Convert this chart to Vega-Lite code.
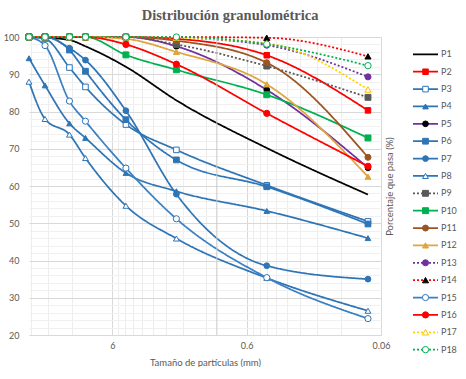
{
  "$schema": "https://vega.github.io/schema/vega-lite/v6.json",
  "background": "white",
  "padding": {"left": 3, "top": 8, "right": 0, "bottom": 0},
  "title": {"text": "Distribución granulométrica", "font": "Liberation Serif", "fontSize": 14.5, "fontWeight": "bold", "color": "#595959", "anchor": "middle", "offset": 8},
  "config": {
    "view": {"stroke": null},
    "font": "Lato",
    "axis": {"labelFont": "Lato", "titleFont": "Lato", "labelColor": "#595959", "titleColor": "#595959", "labelFontSize": 9, "titleFontSize": 9.5, "titleFontWeight": "normal"}
  },
  "datasets": {
    "main": [
      {"series":"P1","size":25,"pct":100},{"series":"P1","size":19,"pct":99.8},{"series":"P1","size":12.5,"pct":99.2},{"series":"P1","size":9.5,"pct":97.5},{"series":"P1","size":4.75,"pct":92},{"series":"P1","size":2,"pct":83},{"series":"P1","size":0.425,"pct":70.2},{"series":"P1","size":0.075,"pct":57.7},
      {"series":"P2","size":25,"pct":100},{"series":"P2","size":19,"pct":100},{"series":"P2","size":12.5,"pct":100},{"series":"P2","size":9.5,"pct":100},{"series":"P2","size":4.75,"pct":100},{"series":"P2","size":2,"pct":99.5},{"series":"P2","size":0.425,"pct":95.1},{"series":"P2","size":0.075,"pct":80.3},
      {"series":"P3","size":25,"pct":100},{"series":"P3","size":19,"pct":99.5},{"series":"P3","size":12.5,"pct":91.8},{"series":"P3","size":9.5,"pct":86.6},{"series":"P3","size":4.75,"pct":76.5},{"series":"P3","size":2,"pct":69.7},{"series":"P3","size":0.425,"pct":60.2},{"series":"P3","size":0.075,"pct":50.5},
      {"series":"P4","size":25,"pct":94.3},{"series":"P4","size":19,"pct":87},{"series":"P4","size":12.5,"pct":76.8},{"series":"P4","size":9.5,"pct":72.9},{"series":"P4","size":4.75,"pct":63.5},{"series":"P4","size":2,"pct":58.6},{"series":"P4","size":0.425,"pct":53.3},{"series":"P4","size":0.075,"pct":46},
      {"series":"P5","size":25,"pct":100},{"series":"P5","size":19,"pct":100},{"series":"P5","size":12.5,"pct":100},{"series":"P5","size":9.5,"pct":100},{"series":"P5","size":4.75,"pct":100},{"series":"P5","size":2,"pct":97.5},{"series":"P5","size":0.425,"pct":85.8},{"series":"P5","size":0.075,"pct":64.9},
      {"series":"P6","size":25,"pct":100},{"series":"P6","size":19,"pct":100},{"series":"P6","size":12.5,"pct":96.5},{"series":"P6","size":9.5,"pct":90.8},{"series":"P6","size":4.75,"pct":77.8},{"series":"P6","size":2,"pct":67},{"series":"P6","size":0.425,"pct":59.8},{"series":"P6","size":0.075,"pct":49.8},
      {"series":"P7","size":25,"pct":100},{"series":"P7","size":19,"pct":100},{"series":"P7","size":12.5,"pct":97},{"series":"P7","size":9.5,"pct":93.8},{"series":"P7","size":4.75,"pct":80.2},{"series":"P7","size":2,"pct":57.8},{"series":"P7","size":0.425,"pct":38.6},{"series":"P7","size":0.075,"pct":35},
      {"series":"P8","size":25,"pct":88},{"series":"P8","size":19,"pct":78},{"series":"P8","size":12.5,"pct":73.8},{"series":"P8","size":9.5,"pct":67.5},{"series":"P8","size":4.75,"pct":54.7},{"series":"P8","size":2,"pct":45.9},{"series":"P8","size":0.425,"pct":35.3},{"series":"P8","size":0.075,"pct":26.5},
      {"series":"P9","size":25,"pct":100},{"series":"P9","size":19,"pct":100},{"series":"P9","size":12.5,"pct":100},{"series":"P9","size":9.5,"pct":100},{"series":"P9","size":4.75,"pct":100},{"series":"P9","size":2,"pct":98},{"series":"P9","size":0.425,"pct":92.2},{"series":"P9","size":0.075,"pct":83.8},
      {"series":"P10","size":25,"pct":100},{"series":"P10","size":19,"pct":100},{"series":"P10","size":12.5,"pct":100},{"series":"P10","size":9.5,"pct":100},{"series":"P10","size":4.75,"pct":95.2},{"series":"P10","size":2,"pct":91.2},{"series":"P10","size":0.425,"pct":84.5},{"series":"P10","size":0.075,"pct":72.9},
      {"series":"P11","size":25,"pct":100},{"series":"P11","size":19,"pct":100},{"series":"P11","size":12.5,"pct":100},{"series":"P11","size":9.5,"pct":100},{"series":"P11","size":4.75,"pct":100},{"series":"P11","size":2,"pct":99},{"series":"P11","size":0.425,"pct":93.1},{"series":"P11","size":0.075,"pct":67.7},
      {"series":"P12","size":25,"pct":100},{"series":"P12","size":19,"pct":100},{"series":"P12","size":12.5,"pct":100},{"series":"P12","size":9.5,"pct":100},{"series":"P12","size":4.75,"pct":99.5},{"series":"P12","size":2,"pct":96},{"series":"P12","size":0.425,"pct":87.3},{"series":"P12","size":0.075,"pct":62.5},
      {"series":"P13","size":25,"pct":100},{"series":"P13","size":19,"pct":100},{"series":"P13","size":12.5,"pct":100},{"series":"P13","size":9.5,"pct":100},{"series":"P13","size":4.75,"pct":100},{"series":"P13","size":2,"pct":99.8},{"series":"P13","size":0.425,"pct":97.8},{"series":"P13","size":0.075,"pct":89.3},
      {"series":"P14","size":25,"pct":100},{"series":"P14","size":19,"pct":100},{"series":"P14","size":12.5,"pct":100},{"series":"P14","size":9.5,"pct":100},{"series":"P14","size":4.75,"pct":100},{"series":"P14","size":2,"pct":100},{"series":"P14","size":0.425,"pct":99.8},{"series":"P14","size":0.075,"pct":94.8},
      {"series":"P15","size":25,"pct":100},{"series":"P15","size":19,"pct":97.7},{"series":"P15","size":12.5,"pct":82.8},{"series":"P15","size":9.5,"pct":77.4},{"series":"P15","size":4.75,"pct":64.8},{"series":"P15","size":2,"pct":51.2},{"series":"P15","size":0.425,"pct":35.4},{"series":"P15","size":0.075,"pct":24.4},
      {"series":"P16","size":25,"pct":100},{"series":"P16","size":19,"pct":100},{"series":"P16","size":12.5,"pct":100},{"series":"P16","size":9.5,"pct":100},{"series":"P16","size":4.75,"pct":98},{"series":"P16","size":2,"pct":92.7},{"series":"P16","size":0.425,"pct":79.5},{"series":"P16","size":0.075,"pct":65.3},
      {"series":"P17","size":25,"pct":100},{"series":"P17","size":19,"pct":100},{"series":"P17","size":12.5,"pct":100},{"series":"P17","size":9.5,"pct":100},{"series":"P17","size":4.75,"pct":100},{"series":"P17","size":2,"pct":99.8},{"series":"P17","size":0.425,"pct":98.3},{"series":"P17","size":0.075,"pct":85.9},
      {"series":"P18","size":25,"pct":100},{"series":"P18","size":19,"pct":100},{"series":"P18","size":12.5,"pct":100},{"series":"P18","size":9.5,"pct":100},{"series":"P18","size":4.75,"pct":100},{"series":"P18","size":2,"pct":100},{"series":"P18","size":0.425,"pct":98.1},{"series":"P18","size":0.075,"pct":92.3}
    ]
  },
  "spacing": 18,
  "resolve": {"scale": {"x": "independent", "y": "independent"}},
  "hconcat": [
    {
      "width": 352,
      "height": 298,
      "data": {"name": "main"},
      "resolve": {"axis": {"y": "independent"}},
      "layer": [
        {
          "mark": {"type": "line", "interpolate": "monotone", "strokeWidth": 1.75},
          "encoding": {
            "x": {"field": "size", "type": "quantitative",
              "scale": {"type": "log", "domain": [0.06, 25], "reverse": true, "nice": false},
              "axis": {"values": [0.06,0.12,0.18,0.24,0.3,0.36,0.42,0.48,0.54,0.6,1.2,1.8,2.4,3,3.6,4.2,4.8,5.4,6,12,18,24],
                "format": "~g",
                "labelExpr": "indexof([0.06,0.6,6], datum.value) >= 0 ? datum.label : ''",
                "labelOverlap": false, "labelFlush": false, "labelBound": false,
                "title": "Tamaño de partículas (mm)",
                "grid": true,
                "gridColor": {"condition": {"test": "indexof([0.06,0.6,6], datum.value) >= 0", "value": "#d9d9d9"}, "value": "#ededed"},
                "ticks": false, "domain": true, "domainColor": "#d9d9d9",
                "labelPadding": 6, "titlePadding": 7}},
            "y": {"field": "pct", "type": "quantitative",
              "scale": {"domain": [20, 100], "nice": false, "zero": false},
              "axis": {"orient": "left",
                "values": [20,22,24,26,28,30,32,34,36,38,40,42,44,46,48,50,52,54,56,58,60,62,64,66,68,70,72,74,76,78,80,82,84,86,88,90,92,94,96,98,100],
                "labelExpr": "datum.value % 10 === 0 ? datum.label : ''",
                "labelOverlap": false, "labelFlush": false,
                "title": null, "ticks": false, "domain": false,
                "grid": true,
                "gridColor": {"condition": {"test": "datum.value % 10 === 0", "value": "#d9d9d9"}, "value": "#f0f0f0"},
                "labelPadding": 10}},
            "color": {"field": "series", "type": "nominal", "legend": null,
              "scale": {"domain": ["P1","P2","P3","P4","P5","P6","P7","P8","P9","P10","P11","P12","P13","P14","P15","P16","P17","P18"],
                "range": ["#000000","#ff0000","#2e75b6","#2e75b6","#7030a0","#2e75b6","#2e75b6","#2e75b6","#595959","#00b050","#9c5522","#e0a53c","#7030a0","#ff0000","#3a80c4","#ff0000","#ffd200","#00b050"]}},
            "strokeDash": {"field": "series", "type": "nominal", "legend": null,
              "scale": {"domain": ["P1","P2","P3","P4","P5","P6","P7","P8","P9","P10","P11","P12","P13","P14","P15","P16","P17","P18"],
                "range": [[1,0],[1,0],[1,0],[1,0],[1,0],[1,0],[1,0],[1,0],[2,2],[1,0],[1,0],[1,0],[2,2],[2,2],[1,0],[1,0],[2,2],[2,2]]}}
          }
        },
        {
          "data": {"values": [{"axisline": "v"}]},
          "mark": {"type": "rule", "color": "#c8c8c8", "strokeWidth": 1},
          "encoding": {"x": {"datum": 1, "type": "quantitative"}}
        },
        {
          "transform": [{"filter": "datum.series !== 'P1'"}],
          "mark": {"type": "point", "filled": true, "strokeWidth": 1, "opacity": 1},
          "encoding": {
            "x": {"field": "size", "type": "quantitative"},
            "y": {"field": "pct", "type": "quantitative",
              "axis": {"orient": "right", "title": "Porcentaje que pasa (%)", "titleAngle": 270, "titleBaseline": "top", "labels": false, "ticks": false, "domain": false, "grid": false, "titlePadding": 3}},
            "shape": {"field": "series", "type": "nominal", "legend": null,
              "scale": {"domain": ["P1","P2","P3","P4","P5","P6","P7","P8","P9","P10","P11","P12","P13","P14","P15","P16","P17","P18"],
                "range": ["circle","square","square","triangle-up","circle","square","circle","triangle-up","square","square","circle","triangle-up","circle","triangle-up","circle","circle","triangle-up","circle"]}},
            "fill": {"field": "series", "type": "nominal", "legend": null,
              "scale": {"domain": ["P1","P2","P3","P4","P5","P6","P7","P8","P9","P10","P11","P12","P13","P14","P15","P16","P17","P18"],
                "range": ["#000000","#ff0000","#ffffff","#2e75b6","#000000","#2e75b6","#2e75b6","#ffffff","#595959","#00b050","#9c5522","#e0a53c","#7030a0","#000000","#ffffff","#ff0000","#ffffff","#ffffff"]}},
            "stroke": {"field": "series", "type": "nominal", "legend": null,
              "scale": {"domain": ["P1","P2","P3","P4","P5","P6","P7","P8","P9","P10","P11","P12","P13","P14","P15","P16","P17","P18"],
                "range": ["#000000","#ff0000","#2e75b6","#2e75b6","#000000","#2e75b6","#2e75b6","#2e75b6","#595959","#00b050","#9c5522","#e0a53c","#7030a0","#000000","#2e75b6","#ff0000","#ffc000","#00b050"]}},
            "size": {"field": "series", "type": "nominal", "legend": null,
              "scale": {"domain": ["P1","P2","P3","P4","P5","P6","P7","P8","P9","P10","P11","P12","P13","P14","P15","P16","P17","P18"],
                "range": [30,40,40,45,20,55,40,40,40,40,25,40,30,45,32,28,40,30]}}
          }
        }
      ]
    },
    {
      "width": 25,
      "height": 330,
      "data": {"name": "main"},
      "transform": [{"filter": "datum.size == 25"}],
      "encoding": {
        "y": {"field": "series", "type": "nominal", "axis": null,
          "scale": {"type": "point", "padding": 1.22, "domain": ["P1","P2","P3","P4","P5","P6","P7","P8","P9","P10","P11","P12","P13","P14","P15","P16","P17","P18"]}}
      },
      "layer": [
        {
          "mark": {"type": "rule", "strokeWidth": 1.75},
          "encoding": {
            "x": {"datum": 0, "type": "quantitative", "scale": {"domain": [0, 1], "nice": false}, "axis": null},
            "x2": {"datum": 1},
            "color": {"field": "series", "type": "nominal", "legend": null,
              "scale": {"domain": ["P1","P2","P3","P4","P5","P6","P7","P8","P9","P10","P11","P12","P13","P14","P15","P16","P17","P18"],
                "range": ["#000000","#ff0000","#2e75b6","#2e75b6","#7030a0","#2e75b6","#2e75b6","#2e75b6","#595959","#00b050","#9c5522","#e0a53c","#7030a0","#ff0000","#3a80c4","#ff0000","#ffd200","#00b050"]}},
            "strokeDash": {"field": "series", "type": "nominal", "legend": null,
              "scale": {"domain": ["P1","P2","P3","P4","P5","P6","P7","P8","P9","P10","P11","P12","P13","P14","P15","P16","P17","P18"],
                "range": [[1,0],[1,0],[1,0],[1,0],[1,0],[1,0],[1,0],[1,0],[2,2],[1,0],[1,0],[1,0],[2,2],[2,2],[1,0],[1,0],[2,2],[2,2]]}}
          }
        },
        {
          "transform": [{"filter": "datum.series !== 'P1'"}],
          "mark": {"type": "point", "filled": true, "strokeWidth": 1, "opacity": 1},
          "encoding": {
            "x": {"datum": 0.5, "type": "quantitative"},
            "shape": {"field": "series", "type": "nominal", "legend": null,
              "scale": {"domain": ["P1","P2","P3","P4","P5","P6","P7","P8","P9","P10","P11","P12","P13","P14","P15","P16","P17","P18"],
                "range": ["circle","square","square","triangle-up","circle","square","circle","triangle-up","square","square","circle","triangle-up","circle","triangle-up","circle","circle","triangle-up","circle"]}},
            "fill": {"field": "series", "type": "nominal", "legend": null,
              "scale": {"domain": ["P1","P2","P3","P4","P5","P6","P7","P8","P9","P10","P11","P12","P13","P14","P15","P16","P17","P18"],
                "range": ["#000000","#ff0000","#ffffff","#2e75b6","#000000","#2e75b6","#2e75b6","#ffffff","#595959","#00b050","#9c5522","#e0a53c","#7030a0","#000000","#ffffff","#ff0000","#ffffff","#ffffff"]}},
            "stroke": {"field": "series", "type": "nominal", "legend": null,
              "scale": {"domain": ["P1","P2","P3","P4","P5","P6","P7","P8","P9","P10","P11","P12","P13","P14","P15","P16","P17","P18"],
                "range": ["#000000","#ff0000","#2e75b6","#2e75b6","#000000","#2e75b6","#2e75b6","#2e75b6","#595959","#00b050","#9c5522","#e0a53c","#7030a0","#000000","#2e75b6","#ff0000","#ffc000","#00b050"]}},
            "size": {"field": "series", "type": "nominal", "legend": null,
              "scale": {"domain": ["P1","P2","P3","P4","P5","P6","P7","P8","P9","P10","P11","P12","P13","P14","P15","P16","P17","P18"],
                "range": [30,40,40,45,20,55,40,40,40,40,25,40,30,45,32,28,40,30]}}
          }
        },
        {
          "mark": {"type": "text", "align": "left", "baseline": "middle", "dx": 3, "fontSize": 9, "font": "Lato", "color": "#595959"},
          "encoding": {
            "x": {"datum": 1, "type": "quantitative"},
            "text": {"field": "series", "type": "nominal"}
          }
        }
      ]
    }
  ]
}
